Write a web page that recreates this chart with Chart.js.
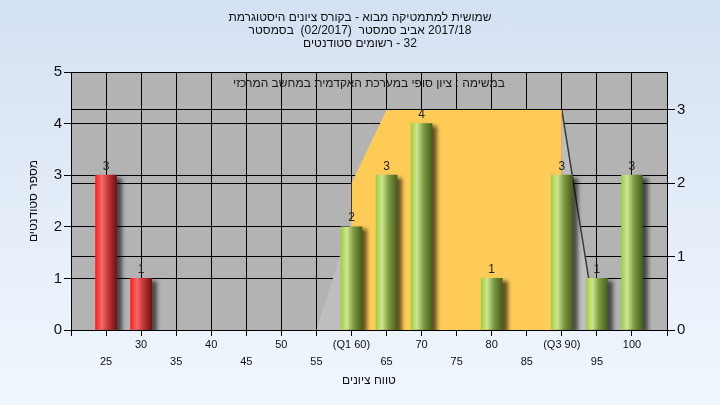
<!DOCTYPE html>
<html>
<head>
<meta charset="utf-8">
<script src="https://cdn.jsdelivr.net/npm/chart.js@4/dist/chart.umd.min.js"></script>
<style>
  html, body { margin: 0; padding: 0; }
  body { width: 720px; height: 405px; background: linear-gradient(180deg, #d4e1f3 0%, #e6eff9 60%, #f0f6fd 100%); }
  canvas { display: block; }
</style>
</head>
<body>
<canvas id="gradeChart" width="720" height="405"></canvas>
<script>
// grades (x) and number of students (left axis)
const grades = [25, 30, 60, 65, 70, 80, 90, 95, 100];
const students = [3, 1, 2, 3, 4, 1, 3, 1, 3];
const passMark = 55;

// quartile band on the right axis (Q1 60 .. Q3 90)
const bandX = [60, 60, 65, 90, 90];
const bandY = [0, 2, 3, 3, 0];
const shadeX = [55, 65, 90, 95];
const shadeY = [0, 3, 3, 0];

const tickLabels = { 60: '(Q1 60)', 90: '(Q3 90)' };
// title words in the order they stand left to right in the source picture
// ('' = extra gap)
const titleLines = [
  ['היסטוגרמת', 'ציונים', 'בקורס', '-', 'מבוא', 'למתמטיקה', 'שמושית'],
  ['בסמסטר', '', '(02/2017)', '', 'סמסטר', 'אביב', '2017/18'],
  ['סטודנטים', 'רשומים', '-', '32']
];
const innerText = 'במשימה : ציון סופי במערכת האקדמית במחשב המרכזי';

const fontFamily = 'Arial, "Liberation Sans", sans-serif';

function pts(xs, ys) {
  return xs.map((x, i) => ({ x: x, y: ys[i] }));
}

function barFill(c) {
  const chart = c.chart;
  if (!chart.chartArea) return '#c33';
  const x = chart.scales.x.getPixelForValue(grades[c.dataIndex]);
  const g = chart.ctx.createLinearGradient(x - 10.5, 0, x + 10.5, 0);
  if (grades[c.dataIndex] < passMark) {
    g.addColorStop(0, '#ff1c1c');
    g.addColorStop(0.3, '#f26a6a');
    g.addColorStop(0.6, '#c83535');
    g.addColorStop(1, '#701212');
  } else {
    g.addColorStop(0, '#9fcf3f');
    g.addColorStop(0.28, '#cfe693');
    g.addColorStop(0.6, '#7d9b41');
    g.addColorStop(1, '#485f1f');
  }
  return g;
}

const plotBg = {
  id: 'plotBg',
  beforeDraw(chart) {
    const a = chart.chartArea, ctx = chart.ctx;
    ctx.save();
    ctx.fillStyle = '#b3b3b3';
    ctx.fillRect(a.left, a.top, a.right - a.left, a.bottom - a.top);
    ctx.restore();
  }
};

const barShadow = {
  id: 'barShadow',
  beforeDatasetDraw(chart, args) {
    if (args.index !== 0) return;
    const ctx = chart.ctx;
    ctx.save();
    ctx.shadowColor = 'rgba(0,0,0,0.6)';
    ctx.shadowOffsetX = 5;
    ctx.shadowOffsetY = 3;
    ctx.shadowBlur = 4;
  },
  afterDatasetDraw(chart, args) {
    if (args.index !== 0) return;
    chart.ctx.restore();
  }
};

// word by word, so the order does not depend on bidi handling
const wordTitle = {
  id: 'wordTitle',
  afterDraw(chart) {
    const ctx = chart.ctx;
    ctx.save();
    ctx.font = '12px ' + fontFamily;
    ctx.fillStyle = '#111';
    ctx.textAlign = 'left';
    ctx.textBaseline = 'middle';
    const gap = ctx.measureText(' ').width;
    titleLines.forEach((words, li) => {
      const widths = words.map(w => ctx.measureText(w).width);
      const total = widths.reduce((s, w) => s + w, 0) + gap * (words.length - 1);
      let x = chart.width / 2 - total / 2;
      words.forEach((w, i) => {
        if (w) ctx.fillText(w, x, 18 + li * 13);
        x += widths[i] + gap;
      });
    });
    ctx.restore();
  }
};

const labelsPlugin = {
  id: 'labelsPlugin',
  afterDatasetsDraw(chart) {
    const ctx = chart.ctx;
    const a = chart.chartArea;
    ctx.save();
    ctx.font = '12px ' + fontFamily;
    ctx.fillStyle = '#222';
    ctx.textAlign = 'center';
    ctx.textBaseline = 'middle';
    chart.getDatasetMeta(0).data.forEach((bar, i) => {
      ctx.fillText(String(students[i]), bar.x, bar.y - 9);
    });
    ctx.fillStyle = '#1a1a1a';
    ctx.fillText(innerText, (a.left + a.right) / 2, a.top + 12);
    ctx.restore();
  }
};

new Chart(document.getElementById('gradeChart'), {
  type: 'bar',
  data: {
    datasets: [
      {
        type: 'bar',
        data: pts(grades, students),
        yAxisID: 'y',
        backgroundColor: barFill,
        borderWidth: 0,
        barThickness: 21,
        grouped: false,
        order: 0
      },
      {
        type: 'line',
        data: pts(bandX, bandY),
        yAxisID: 'y2',
        backgroundColor: '#fecb57',
        borderWidth: 0,
        pointRadius: 0,
        fill: 'origin',
        tension: 0,
        order: 1
      },
      {
        type: 'line',
        data: pts(shadeX, shadeY),
        yAxisID: 'y2',
        backgroundColor: '#bebebe',
        borderWidth: 1.5,
        borderColor: 'rgba(0,0,0,0)',
        segment: {
          borderColor: s => s.p0.parsed.x === 90 ? '#3a3a3a' : 'rgba(0,0,0,0)'
        },
        pointRadius: 0,
        fill: 'origin',
        tension: 0,
        order: 2
      }
    ]
  },
  options: {
    responsive: false,
    animation: false,
    layout: { padding: { top: 72 } },
    plugins: {
      legend: { display: false },
      tooltip: { enabled: false },
      title: { display: false }
    },
    scales: {
      x: {
        type: 'linear',
        min: 20,
        max: 105,
        offset: false,
        ticks: {
          stepSize: 5,
          autoSkip: false,
          maxRotation: 0,
          padding: 0,
          color: '#111',
          font: { family: fontFamily, size: 11, lineHeight: 17 / 11 },
          callback: v => {
            if (v < 25 || v > 100) return '';
            const t = tickLabels[v] || String(v);
            return v % 10 === 0 ? t : ['', t];
          }
        },
        grid: { offset: false, color: '#000', lineWidth: 1, tickLength: 6, tickColor: '#000' },
        border: { color: '#000' },
        title: {
          display: true,
          text: 'טווח ציונים',
          color: '#111',
          font: { family: fontFamily, size: 12 },
          padding: { top: 0, bottom: 17 }
        },
        afterFit: s => { s.height = 75; }
      },
      y: {
        position: 'left',
        min: 0,
        max: 5,
        ticks: {
          stepSize: 1,
          padding: 2,
          color: '#111',
          font: { family: fontFamily, size: 15 }
        },
        grid: { color: '#000', lineWidth: 1, tickLength: 7, tickColor: '#000' },
        border: { color: '#000' },
        title: {
          display: true,
          text: 'מספר סטודנטים',
          color: '#111',
          font: { family: fontFamily, size: 12 },
          padding: { top: 26.8, bottom: 0 }
        },
        afterFit: s => { s.width = 71; }
      },
      y2: {
        position: 'right',
        min: 0,
        max: 3.518,
        ticks: {
          stepSize: 1,
          includeBounds: false,
          padding: 2,
          color: '#111',
          font: { family: fontFamily, size: 15 },
          callback: v => Number.isInteger(v) ? String(v) : ''
        },
        grid: { color: '#000', lineWidth: 1, tickLength: 8, tickColor: '#000', drawOnChartArea: true },
        border: { color: '#000' },
        afterFit: s => { s.width = 53; }
      }
    }
  },
  plugins: [plotBg, barShadow, labelsPlugin, wordTitle]
});
</script>
</body>
</html>
